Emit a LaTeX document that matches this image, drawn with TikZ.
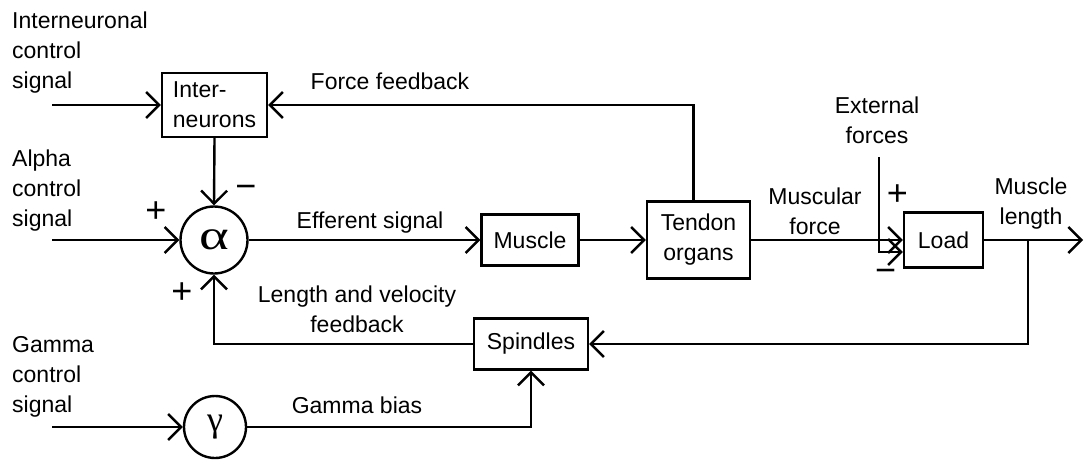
\documentclass[tikz,border=0pt]{standalone}
\usepackage{fontspec}
\setmainfont{Liberation Sans}
\newfontfamily\greekfont{Liberation Serif}
\usetikzlibrary{arrows.meta}
\begin{document}
\begin{tikzpicture}[x=1pt,y=-1pt,
  every node/.style={font=\fontsize{23}{30}\selectfont},
  wire/.style={line width=2.4pt},
  sig/.style={wire,-{Straight Barb[length=13pt,width=26pt]}},
  blk/.style={draw,line width=2.4pt,inner sep=0pt},
  junc/.style={draw,circle,line width=2.4pt,inner sep=0pt},
  lbl/.style={inner sep=0pt,align=center,anchor=north},
  side/.style={inner sep=0pt,align=left,anchor=north west},
  sgn/.style={inner sep=0pt,font=\fontsize{36}{36}\selectfont}]
\useasboundingbox (0,0) rectangle (1084,461);

% blocks
\node[blk,minimum width=105pt,minimum height=64pt,align=left] (inter) at (214.5,105) {Inter-\\neurons};
\node[blk,minimum width=97pt,minimum height=51pt] (muscle) at (530,240) {Muscle};
\node[blk,minimum width=103pt,minimum height=77pt,align=center] (tendon) at (698.5,240) {Tendon\\organs};
\node[blk,minimum width=79pt,minimum height=55pt] (load) at (943.5,240) {Load};
\node[blk,minimum width=114pt,minimum height=51pt] (spindles) at (531,344) {Spindles};

% summing junctions
\node[junc,minimum size=67pt] (alpha) at (214,240) {\greekfont\fontsize{42}{42}\selectfont\scalebox{1.35}[1]{α}};
\node[junc,minimum size=62pt] (gamma) at (215,427) {\greekfont\fontsize{36}{36}\selectfont γ};

% free ends
\coordinate (inI) at (52,105);
\coordinate (inA) at (52,240);
\coordinate (inG) at (52,427);
\coordinate (ext) at (879,157);
\coordinate (out) at (1083,240);
\coordinate (br) at (1028,240);

% connectors
\draw[sig] (inI) -- (inter.west);
\draw[sig] (inA) -- (alpha.west);
\draw[sig] (inG) -- (gamma.west);
\draw[sig] (inter.south) -- (alpha.north);
\draw[sig] (alpha.east) -- (muscle.west);
\draw[sig] (muscle.east) -- (tendon.west);
\draw[sig] (tendon.east) -- (load.west);
\draw[sig] ([xshift=-5pt]tendon.north) |- (inter.east);
\draw[sig] (ext) |- ([yshift=-12pt]load.west);
\draw[sig] (load.east) -- (out);
\draw[sig] (br) |- (spindles.east);
\draw[sig] (spindles.west) -| (alpha.south);
\draw[sig] (gamma.east) -| (spindles.south);

% side labels
\node[side] (lint) at (12,12) {Interneuronal\\control\\signal};
\node[side] (lalp) at (12,150) {Alpha\\control\\signal};
\node[side] (lgam) at (12,336) {Gamma\\control\\signal};

% connector labels
\node[lbl] (lff) at (390,73) {Force feedback};
\node[lbl] (leff) at (370,212) {Efferent signal};
\node[lbl] (lmf) at (815,188) {Muscular\\force};
\node[lbl] (lext) at (877,97) {External\\forces};
\node[lbl] (lml) at (1031,178) {Muscle\\length};
\node[lbl] (llv) at (357,286) {Length and velocity\\feedback};
\node[lbl] (lgb) at (357,397) {Gamma bias};

% signs
\node[sgn] (s1) at (246,192) {−};
\node[sgn] (s2) at (156,212) {+};
\node[sgn] (s3) at (182,293) {+};
\node[sgn] (s4) at (897.5,195) {+};
\node[sgn] (s5) at (885.5,276) {−};
\end{tikzpicture}
\end{document}
